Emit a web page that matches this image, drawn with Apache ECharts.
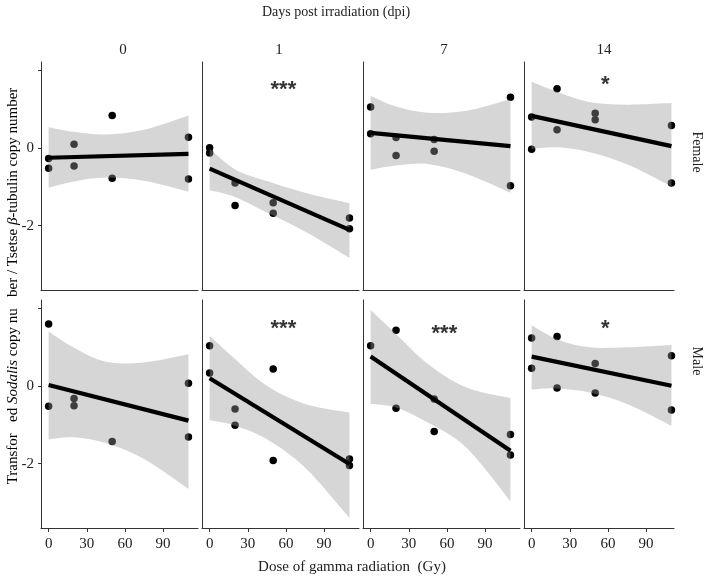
<!DOCTYPE html>
<html><head><meta charset="utf-8">
<script src="https://cdn.jsdelivr.net/npm/echarts@6/dist/echarts.min.js"></script>
<style>html,body{margin:0;padding:0;background:#fff}#c{width:707px;height:577px}</style>
</head><body><div id="c"></div>
<script>
// ---------- data ----------
const dpiLabels = ['0', '1', '7', '14'];
const sexLabels = ['Female', 'Male'];
const xTicks = [0, 30, 60, 90];
const yTicks = [-2, 0, 2];
const yTickLabels = [-2, 0];
const lineX = [0, 110];          // dose range of fitted line
const bandX = [0, 20, 45, 75, 110]; // doses where the CI band was read

// Female
const ptsF0 = [[0,-0.27],[0,-0.52],[20,0.10],[20,-0.46],[50,0.84],[50,-0.78],[110,0.28],[110,-0.80]];
const fitF0 = [-0.25, -0.15];
const upF0 = [0.54, 0.42, 0.35, 0.47, 0.84];
const loF0 = [-1.02, -0.86, -0.76, -0.84, -1.12];

const ptsF1 = [[0,0.01],[0,-0.13],[20,-0.90],[20,-1.48],[50,-1.41],[50,-1.68],[110,-1.80],[110,-2.08]];
const fitF1 = [-0.53, -2.11];
const upF1 = [-0.02, -0.55, -0.85, -1.15, -1.42];
const loF1 = [-1.09, -1.26, -1.66, -2.15, -2.83];

const ptsF7 = [[0,1.06],[0,0.37],[20,0.27],[20,-0.19],[50,0.22],[50,-0.08],[110,1.31],[110,-0.97]];
const fitF7 = [0.39, 0.05];
const upF7 = [1.34, 1.07, 0.91, 0.96, 1.26];
const loF7 = [-0.56, -0.45, -0.41, -0.66, -1.15];

const ptsF14 = [[0,0.80],[0,-0.03],[20,1.53],[20,0.47],[50,0.90],[50,0.73],[110,0.58],[110,-0.90]];
const fitF14 = [0.83, 0.05];
const upF14 = [1.71, 1.45, 1.19, 1.12, 1.16];
const loF14 = [-0.02, 0.02, -0.10, -0.42, -0.99];

// Male
const ptsM0 = [[0,1.60],[0,-0.52],[20,-0.32],[20,-0.51],[50,-1.43],[110,0.07],[110,-1.31]];
const fitM0 = [0.03, -0.89];
const upM0 = [1.41, 0.99, 0.63, 0.61, 0.82];
const loM0 = [-1.37, -1.32, -1.47, -1.88, -2.65];

const ptsM1 = [[0,1.04],[0,0.34],[20,-0.59],[20,-1.01],[50,0.44],[50,-1.92],[110,-1.88],[110,-2.05]];
const fitM1 = [0.20, -2.01];
const upM1 = [1.30, 0.70, 0.01, -0.46, -0.68];
const loM1 = [-0.88, -1.02, -1.37, -2.10, -3.40];

const ptsM7 = [[0,1.04],[20,1.44],[20,-0.57],[50,-0.33],[50,-1.17],[110,-1.25],[110,-1.78]];
const fitM7 = [0.76, -1.67];
const upM7 = [1.96, 1.34, 0.57, -0.03, -0.31];
const loM7 = [-0.46, -0.55, -0.94, -1.58, -2.97];

const ptsM14 = [[0,1.24],[0,0.46],[20,1.28],[20,-0.05],[50,0.58],[50,-0.18],[110,0.78],[110,-0.62]];
const fitM14 = [0.76, 0.01];
const upM14 = [1.57, 1.21, 1.00, 1.00, 1.06];
const loM14 = [-0.09, -0.06, -0.16, -0.46, -1.02];

const sigLabels = ['', '***', '', '*', '', '***', '***', '*'];

// ---------- layout ----------
const panels = [
  {pts: ptsF0, fit: fitF0, up: upF0, lo: loF0},
  {pts: ptsF1, fit: fitF1, up: upF1, lo: loF1},
  {pts: ptsF7, fit: fitF7, up: upF7, lo: loF7},
  {pts: ptsF14, fit: fitF14, up: upF14, lo: loF14},
  {pts: ptsM0, fit: fitM0, up: upM0, lo: loM0},
  {pts: ptsM1, fit: fitM1, up: upM1, lo: loM1},
  {pts: ptsM7, fit: fitM7, up: upM7, lo: loM7},
  {pts: ptsM14, fit: fitM14, up: upM14, lo: loM14}
];
const sigPos = [null, [58, 1.62], null, [58, 1.77], null, [58, 1.60], [58, 1.47], [58, 1.60]];
const colLeft = [41, 202, 363, 524];
const colWidth = [157, 157, 157, 150];
const rowTop = [62, 300];
const rowHeight = 228;
const xMin = -6, pxPerUnit = 157 / 123.5;
const yMin = -3.66, yMax = 2.22;
const FONT = '"Liberation Serif", "Times New Roman", serif';
const AX = '#333333';

function curve(P) {
  let s = '';
  for (let k = 0; k < P.length - 1; k++) {
    const p0 = P[k - 1] || P[k], p1 = P[k], p2 = P[k + 1], p3 = P[k + 2] || P[k + 1];
    const c1 = [p1[0] + (p2[0] - p0[0]) / 6, p1[1] + (p2[1] - p0[1]) / 6];
    const c2 = [p2[0] - (p3[0] - p1[0]) / 6, p2[1] - (p3[1] - p1[1]) / 6];
    s += ' C' + c1.join(' ') + ' ' + c2.join(' ') + ' ' + p2.join(' ');
  }
  return s;
}

const grid = [], xAxis = [], yAxis = [], series = [];
panels.forEach((p, i) => {
  const row = Math.floor(i / 4), col = i % 4;
  grid.push({left: colLeft[col], top: rowTop[row], width: colWidth[col], height: rowHeight, containLabel: false});
  xAxis.push({
    gridIndex: i, type: 'value', min: xMin, max: xMin + colWidth[col] / pxPerUnit,
    axisLine: {show: true, onZero: false, lineStyle: {color: AX, width: 1}},
    axisTick: {show: row === 1, length: 4, customValues: xTicks, lineStyle: {color: AX}},
    axisLabel: {show: row === 1, customValues: xTicks, margin: 9, fontFamily: FONT, fontSize: 15, color: '#222'},
    splitLine: {show: false}
  });
  yAxis.push({
    gridIndex: i, type: 'value', min: yMin, max: yMax,
    axisLine: {show: true, onZero: false, lineStyle: {color: AX, width: 1}},
    axisTick: {show: col === 0, length: 3, customValues: yTicks, lineStyle: {color: AX}},
    axisLabel: {show: col === 0, customValues: yTickLabels, margin: 7, fontFamily: FONT, fontSize: 15, color: '#222'},
    splitLine: {show: false}
  });
  series.push({
    type: 'scatter', xAxisIndex: i, yAxisIndex: i, z: 1, data: p.pts,
    symbolSize: 7.5, itemStyle: {color: '#000', opacity: 1}, silent: true
  });
  series.push({
    type: 'custom', xAxisIndex: i, yAxisIndex: i, z: 2, silent: true,
    data: [[bandX[0], p.up[0]]],
    renderItem: function (params, api) {
      const U = bandX.map((x, k) => api.coord([x, p.up[k]]));
      const L = bandX.map((x, k) => api.coord([x, p.lo[k]])).reverse();
      const d = 'M' + U[0].join(' ') + curve(U) + ' L' + L[0].join(' ') + curve(L) + ' Z';
      return {type: 'path', shape: {pathData: d}, style: {fill: 'rgba(153,153,153,0.4)'}};
    }
  });
  series.push({
    type: 'line', xAxisIndex: i, yAxisIndex: i, z: 3, silent: true,
    data: lineX.map((x, k) => [x, p.fit[k]]),
    symbol: 'none', lineStyle: {color: '#000', width: 4.2, cap: 'butt'}
  });
  if (sigLabels[i]) {
    series.push({
      type: 'scatter', xAxisIndex: i, yAxisIndex: i, z: 4, silent: true,
      data: [sigPos[i]], symbolSize: 0,
      label: {show: true, position: 'inside', formatter: sigLabels[i], offset: [0, 5],
        fontFamily: '"Liberation Sans", Arial, sans-serif', fontSize: 22, fontWeight: 'bold', color: '#000'}
    });
  }
});

const headerX = [123, 279, 444, 604];
const graphic = [
  {type: 'text', x: 336, y: 12, style: {text: 'Days post irradiation (dpi)', font: '14px ' + FONT, fill: '#222', align: 'center', verticalAlign: 'middle'}},
  {type: 'text', x: 352, y: 567, style: {text: 'Dose of gamma radiation  (Gy)', font: '15px ' + FONT, fill: '#222', align: 'center', verticalAlign: 'middle'}},
  {type: 'text', x: 697, y: 152, rotation: -Math.PI / 2, style: {text: sexLabels[0], font: '14px ' + FONT, fill: '#222', align: 'center', verticalAlign: 'middle'}},
  {type: 'text', x: 697, y: 361, rotation: -Math.PI / 2, style: {text: sexLabels[1], font: '14px ' + FONT, fill: '#222', align: 'center', verticalAlign: 'middle'}},
  {type: 'text', x: 13, y: 286, rotation: Math.PI / 2, style: {
    text: '{a|Transfor   ed }{i|Sodalis}{a| copy nu   ber / Tsetse }{i|β}{a|-tubulin copy number}',
    align: 'center', verticalAlign: 'middle',
    rich: {a: {fontFamily: FONT, fontSize: 15, color: '#222'}, i: {fontFamily: FONT, fontSize: 15, fontStyle: 'italic', color: '#222'}}
  }}
];
dpiLabels.forEach((t, c) => graphic.push({type: 'text', x: headerX[c], y: 50, style: {text: t, font: '15px ' + FONT, fill: '#222', align: 'center', verticalAlign: 'middle'}}));

const chart = echarts.init(document.getElementById('c'), null, {renderer: 'canvas'});
chart.setOption({animation: false, backgroundColor: '#fff', grid, xAxis, yAxis, series, graphic});
</script></body></html>
